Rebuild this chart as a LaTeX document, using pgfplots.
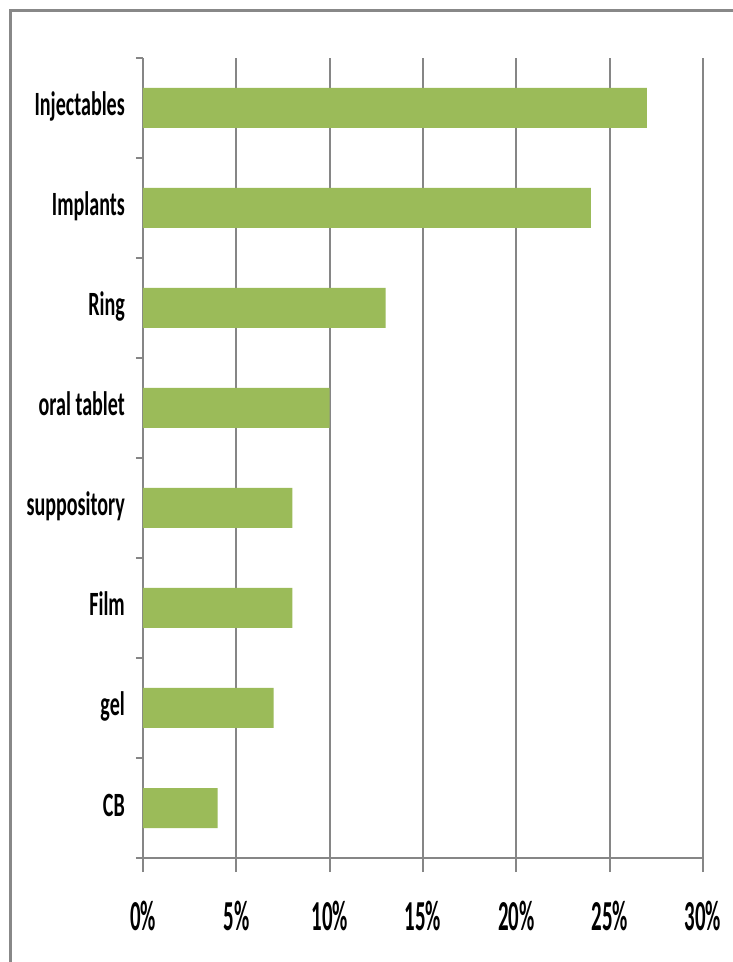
\documentclass[border=0pt]{standalone}
\usepackage{pgfplots}
\pgfplotsset{compat=1.18}
\usepackage{fontspec}
\newfontfamily\catfont[FakeStretch=0.59]{Carlito}
\newfontfamily\tickfont[FakeStretch=0.49]{Carlito}
\definecolor{bargreen}{RGB}{155,187,89}
\definecolor{linegray}{RGB}{134,134,134}
\definecolor{framegray}{RGB}{136,136,136}
\begin{document}
\begin{tikzpicture}
\useasboundingbox (-143pt,-104pt) rectangle (589pt,858pt);
\fill[white] (-143pt,-104pt) rectangle (589pt,858pt);
\draw[framegray, line width=3pt] (-132pt,-110pt) -- (-132pt,847.5pt) -- (595pt,847.5pt);
\begin{axis}[
  at={(0pt,0pt)}, anchor=south west,
  scale only axis, width=560pt, height=800pt,
  xbar, bar width=0.4,
  xmin=0, xmax=30, ymin=-0.5, ymax=7.5,
  axis x line*=bottom, axis y line*=left,
  axis line style={linegray, line width=2.5pt},
  xtick={0,5,...,30},
  xticklabels={0\%,5\%,10\%,15\%,20\%,25\%,30\%},
  ytick={0,1,...,7},
  yticklabels={CB,gel,Film,suppository,oral tablet,Ring,Implants,Injectables},
  minor ytick={-0.5,0.5,...,7.5},
  tick align=outside,
  major tick length=14pt,
  minor tick length=7pt,
  major y tick style={draw=none},
  minor y tick style={draw=linegray, line width=2pt},
  major x tick style={draw=linegray, line width=2pt},
  xmajorgrids,
  major x grid style={linegray, line width=1.8pt},
  xticklabel style={font=\tickfont\bfseries\fontsize{42.7}{44}\selectfont, anchor=base, inner sep=0pt, yshift=-58pt},
  yticklabel style={font=\catfont\bfseries\fontsize{34}{36}\selectfont, anchor=base east, inner sep=0pt, xshift=-4pt, yshift=-8pt},
]
\addplot[fill=bargreen, draw=none] coordinates {
  (4,0) (7,1) (8,2) (8,3) (10,4) (13,5) (24,6) (27,7)
};
\end{axis}
\end{tikzpicture}
\end{document}
